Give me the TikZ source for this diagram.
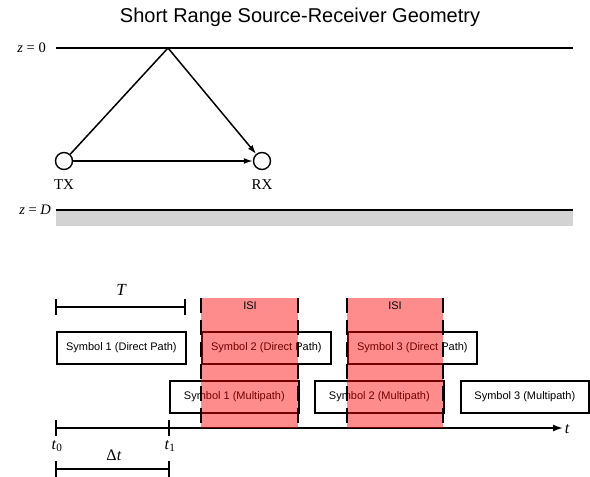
\documentclass[tikz,border=0pt]{standalone}
\usepackage{fontspec}
\setmainfont{Liberation Serif}
\setsansfont{Liberation Sans}
\usetikzlibrary{arrows.meta}
\definecolor{bandgray}{RGB}{211,211,211}
\tikzset{
  thickline/.style={line width=1.7pt},
  thinarrow/.style={line width=1.5pt,-{Latex[length=9pt,width=6pt]}},
  station/.style={circle,draw,line width=1.4pt,minimum size=17pt,inner sep=0pt,fill=white},
  symbox/.style={draw,line width=1.7pt,minimum width=129pt,minimum height=32pt,inner sep=0pt,font=\sffamily\fontsize{11}{13}\selectfont},
  isi/.style={fill=red,opacity=0.45},
  isiline/.style={line width=1.7pt,dash pattern=on 15pt off 7pt},
  lbl/.style={font=\fontsize{15}{17}\selectfont,inner sep=0pt},
  zlbl/.style={font=\fontsize{14.5}{17}\selectfont,inner sep=0pt},
  bracket/.style={line width=1.7pt}
}
\begin{document}
\begin{tikzpicture}[x=1pt,y=-1pt]
\useasboundingbox (0,0) rectangle (590,477);
% title
\node[font=\sffamily\fontsize{20}{23}\selectfont] (title) at (300,17) {Short Range Source-Receiver Geometry};
% surface and bottom
\coordinate (s0) at (56,48);
\coordinate (s1) at (573,48);
\draw[thickline] (s0) -- (s1);
\node[zlbl,anchor=east] (z0) at (46,48) {\textit{z} = 0};
\fill[bandgray] (56,211) rectangle (573,226);
\coordinate (d0) at (56,210);
\coordinate (d1) at (573,210);
\draw[line width=1.3pt] (d0) -- (d1);
\node[zlbl,anchor=east] (zD) at (51,210) {\textit{z} = \textit{D}};
% stations
\node[station] (tx) at (64,161) {};
\node[station] (rx) at (262,161) {};
\node[lbl] (txl) at (64,185) {TX};
\node[lbl] (rxl) at (262,185) {RX};
\coordinate (refl) at (168,48);
\draw[thinarrow] (tx) -- (refl) -- (rx);
\draw[thinarrow] (tx) -- (rx);
% T bracket
\coordinate (T0) at (56,307);
\coordinate (T1) at (185,307);
\draw[bracket] (T0) -- (T1);
\draw[bracket] (56,299) -- (56,315);
\draw[bracket] (185,299) -- (185,315);
\node[font=\itshape\fontsize{17}{19}\selectfont] (Tl) at (121,290) {T};
% symbol boxes
\node[symbox,anchor=north west] (d1b) at (56,331) {Symbol 1 (Direct Path)};
\node[symbox,anchor=north west] (d2b) at (201,331) {Symbol 2 (Direct Path)};
\node[symbox,anchor=north west] (d3b) at (347,331) {Symbol 3 (Direct Path)};
\node[symbox,anchor=north west] (m1b) at (169,380) {Symbol 1 (Multipath)};
\node[symbox,anchor=north west] (m2b) at (314,380) {Symbol 2 (Multipath)};
\node[symbox,anchor=north west,minimum width=128pt] (m3b) at (460,380) {Symbol 3 (Multipath)};
% time axis
\coordinate (a0) at (56,428);
\coordinate (a1) at (563,428);
\draw[line width=1.7pt,-{Latex[length=10pt,width=7pt]}] (a0) -- (a1);
\node[font=\itshape\fontsize{16}{18}\selectfont] (tl) at (567,429) {t};
\draw[bracket] (56,420) -- (56,436);
\draw[bracket] (169,420) -- (169,436);
\node[font=\fontsize{16}{18}\selectfont] (t0) at (57,446) {\textit{t}\textsubscript{0}};
\node[font=\fontsize{16}{18}\selectfont] (t1) at (170,446) {\textit{t}\textsubscript{1}};
% Delta t bracket
\coordinate (D0) at (56,469);
\coordinate (D1) at (169,469);
\draw[bracket] (D0) -- (D1);
\draw[bracket] (56,461) -- (56,477);
\draw[bracket] (169,461) -- (169,477);
\node[font=\fontsize{16}{18}\selectfont] (dtl) at (114,455) {Δ\textit{t}};
% ISI regions
\fill[isi] (201,298) rectangle (298,428);
\fill[isi] (347,298) rectangle (443,428);
\draw[isiline] (201,298) -- (201,428);
\draw[isiline] (298,298) -- (298,428);
\draw[isiline] (347,298) -- (347,428);
\draw[isiline] (443,298) -- (443,428);
\node[font=\sffamily\fontsize{11}{13}\selectfont] (isi1) at (250,306) {ISI};
\node[font=\sffamily\fontsize{11}{13}\selectfont] (isi2) at (395,306) {ISI};
\end{tikzpicture}
\end{document}
